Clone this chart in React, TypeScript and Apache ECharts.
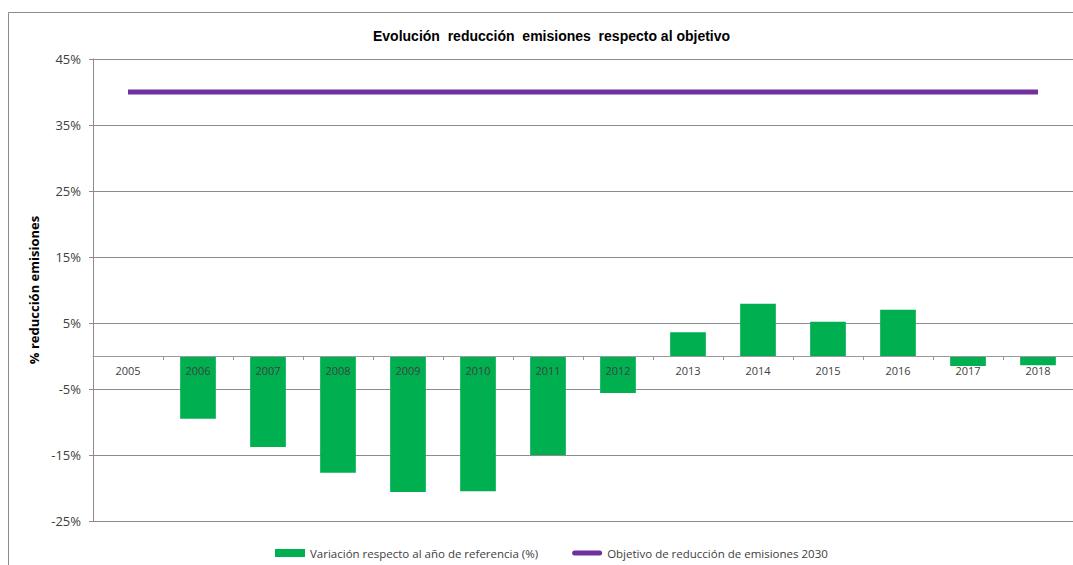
import React, { useEffect, useRef } from "react";
import * as echarts from "echarts";

const years = ["2005","2006","2007","2008","2009","2010","2011","2012","2013","2014","2015","2016","2017","2018"];
const variacion = [0, -9.5, -13.8, -17.7, -20.6, -20.5, -15.0, -5.6, 3.6, 7.9, 5.2, 7.0, -1.5, -1.4];
const objetivo = [40, 40, 40, 40, 40, 40, 40, 40, 40, 40, 40, 40, 40, 40];
const serieBarName = "Variación respecto al año de referencia (%)";
const serieLineName = "Objetivo de reducción de emisiones 2030";

export default function App() {
  const ref = useRef<HTMLDivElement>(null);
  useEffect(() => {
    if (!ref.current) return;
    const chart = echarts.init(ref.current, undefined, { renderer: "svg" });
    const font = "'Open Sans', 'Noto Sans', sans-serif";
    const yMin = -25;
    const yMax = 45;
    const gridTop = 59;
    const gridBottom = 44;
    const plotH = 565 - gridTop - gridBottom;
    const zeroOffset = -Math.round((0 - yMin) / (yMax - yMin) * plotH);
    chart.setOption({
      animation: false,
      backgroundColor: "#ffffff",
      title: {
        text: "Evolución  reducción  emisiones  respecto al objetivo",
        left: 368,
        top: 24,
        textStyle: { fontSize: 14, fontWeight: "bold", color: "#000", fontFamily: "'Liberation Sans', Arial, sans-serif" },
      },
      graphic: [
        { type: "rect", shape: { x: 8.5, y: 12.5, width: 1080, height: 600 }, style: { fill: "none", stroke: "#8c8c8c", lineWidth: 1 }, silent: true, z: -1 },
      ],
      legend: {
        left: 270,
        top: 542,
        itemGap: 34,
        itemWidth: 30,
        itemHeight: 8,
        textStyle: { fontSize: 11.5, color: "#404040", fontFamily: font },
        data: [
          { name: serieBarName, icon: "rect" },
          { name: serieLineName, icon: "path://M2.5,0 H27.5 A2.5,2.5 0 0 1 27.5,5 H2.5 A2.5,2.5 0 0 1 2.5,0 Z" },
        ],
      },
      grid: { left: 93, right: 0, top: gridTop, bottom: gridBottom, containLabel: false },
      xAxis: {
        type: "category",
        data: years,
        z: 10,
        offset: zeroOffset,
        axisLine: { onZero: false, lineStyle: { color: "#9a9a9a", width: 1 } },
        axisTick: { show: true, length: 4, lineStyle: { color: "#9a9a9a" } },
        axisLabel: { margin: 9, fontSize: 11, color: "#404040", fontFamily: font },
        splitLine: { show: false },
      },
      yAxis: {
        type: "value",
        min: yMin,
        max: yMax,
        interval: 10,
        name: "% reducción emisiones",
        nameLocation: "middle",
        nameGap: 47,
        nameRotate: 90,
        nameTextStyle: { fontSize: 13, fontWeight: "bold", color: "#000", fontFamily: font },
        axisLine: { show: true, lineStyle: { color: "#8c8c8c" } },
        axisTick: { show: true, length: 4, lineStyle: { color: "#8c8c8c" } },
        axisLabel: { formatter: "{value}%", fontSize: 13, color: "#404040", margin: 12, fontFamily: font },
        splitLine: { show: true, lineStyle: { color: "#8c8c8c", width: 1 } },
      },
      series: [
        {
          name: serieBarName,
          type: "bar",
          data: variacion,
          barWidth: "51%",
          itemStyle: { color: "#00B050" },
        },
        {
          name: serieLineName,
          type: "line",
          data: objetivo,
          symbol: "none",
          lineStyle: { color: "#7030A0", width: 5 },
          itemStyle: { color: "#7030A0" },
        },
      ],
    });
    return () => chart.dispose();
  }, []);
  return <div ref={ref} style={{ position: "fixed", left: 0, top: 0, width: 1073, height: 565 }} />;
}
